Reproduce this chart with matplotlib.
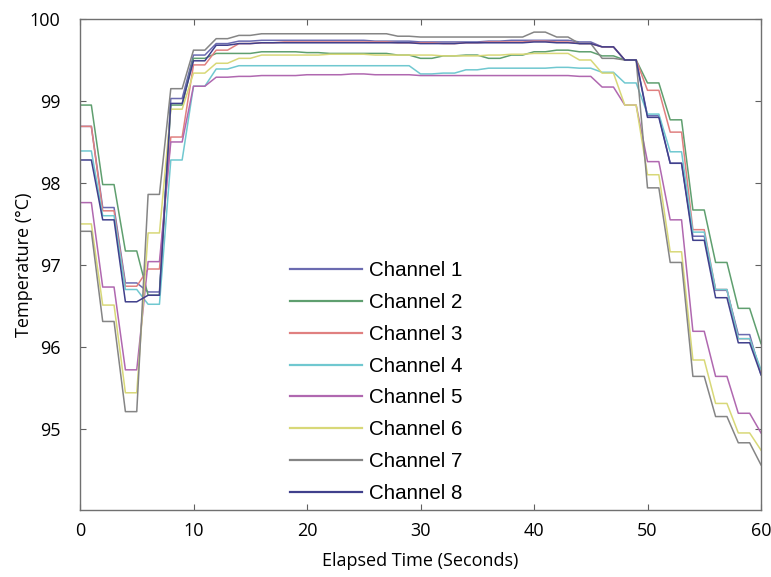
import numpy as np
import matplotlib
matplotlib.use("Agg")
import matplotlib.pyplot as plt

# sample times every 2 s; each sample held for 1 s then ramps to the next
sample_step = 2
x_ticks = [0, 10, 20, 30, 40, 50, 60]
y_ticks = [95, 96, 97, 98, 99, 100]
labels = ["Channel 1", "Channel 2", "Channel 3", "Channel 4",
          "Channel 5", "Channel 6", "Channel 7", "Channel 8"]
colors = ["#6b6bb0", "#5f9f6f", "#e08080", "#70c8d0",
          "#b068b0", "#d8d878", "#858585", "#40408c"]

# values at t = 0, 2, 4, ..., 60
ch1 = [98.69, 97.70, 96.78, 96.67, 99.03, 99.56, 99.70, 99.73, 99.74, 99.74, 99.74, 99.74,
       99.74, 99.73, 99.73, 99.72, 99.72, 99.72, 99.73, 99.74, 99.74, 99.74, 99.72, 99.66,
       99.50, 98.82, 98.24, 97.35, 96.69, 96.15, 95.66]
ch2 = [98.95, 97.98, 97.17, 96.63, 98.95, 99.52, 99.58, 99.58, 99.60, 99.60, 99.59, 99.58,
       99.58, 99.58, 99.56, 99.52, 99.55, 99.56, 99.52, 99.56, 99.60, 99.62, 99.60, 99.55,
       99.50, 99.22, 98.77, 97.67, 97.03, 96.47, 96.04]
ch3 = [98.69, 97.66, 96.74, 96.95, 98.56, 99.44, 99.62, 99.70, 99.71, 99.72, 99.72, 99.72,
       99.72, 99.72, 99.71, 99.71, 99.70, 99.71, 99.72, 99.72, 99.73, 99.72, 99.70, 99.66,
       99.50, 99.13, 98.62, 97.43, 96.70, 96.10, 95.70]
ch4 = [98.39, 97.60, 96.70, 96.52, 98.28, 99.18, 99.39, 99.43, 99.43, 99.43, 99.43, 99.43,
       99.43, 99.43, 99.43, 99.33, 99.34, 99.38, 99.40, 99.40, 99.40, 99.41, 99.40, 99.35,
       99.22, 98.84, 98.38, 97.40, 96.70, 96.10, 95.72]
ch5 = [97.76, 96.73, 95.72, 97.04, 98.50, 99.18, 99.29, 99.30, 99.31, 99.31, 99.32, 99.32,
       99.33, 99.32, 99.32, 99.31, 99.31, 99.31, 99.31, 99.31, 99.31, 99.31, 99.30, 99.17,
       98.95, 98.26, 97.55, 96.19, 95.64, 95.19, 94.95]
ch6 = [97.50, 96.51, 95.44, 97.39, 98.90, 99.34, 99.46, 99.52, 99.56, 99.56, 99.56, 99.57,
       99.57, 99.56, 99.56, 99.56, 99.55, 99.55, 99.56, 99.57, 99.58, 99.58, 99.50, 99.34,
       98.95, 98.10, 97.16, 95.84, 95.31, 94.95, 94.74]
ch7 = [97.41, 96.31, 95.21, 97.86, 99.15, 99.62, 99.76, 99.80, 99.82, 99.82, 99.82, 99.82,
       99.82, 99.82, 99.79, 99.78, 99.78, 99.78, 99.78, 99.78, 99.84, 99.78, 99.70, 99.52,
       99.50, 97.94, 97.03, 95.64, 95.15, 94.83, 94.56]
ch8 = [98.28, 97.55, 96.55, 96.63, 98.97, 99.49, 99.68, 99.70, 99.71, 99.71, 99.71, 99.71,
       99.71, 99.71, 99.71, 99.70, 99.70, 99.71, 99.71, 99.71, 99.72, 99.71, 99.70, 99.66,
       99.50, 98.80, 98.24, 97.30, 96.60, 96.05, 95.66]
channels = [ch1, ch2, ch3, ch4, ch5, ch6, ch7, ch8]

fig = plt.figure(figsize=(7.71, 5.77), dpi=100)
ax = fig.add_axes([80/771, 1-510/577, (761-80)/771, (510-19)/577])

for vals, lab, col in zip(channels, labels, colors):
    v = np.asarray(vals)
    y = np.repeat(v, sample_step)[: (len(v) - 1) * sample_step + 1]
    t = np.arange(len(y))
    ax.plot(t, y, color=col, lw=1.1, label=lab)

ax.set_xlim(0, 60)
ax.set_ylim(94.01, 100)
ax.set_xticks(x_ticks)
ax.set_yticks(y_ticks)
tick_font = dict(family=["Open Sans", "DejaVu Sans"], size=13)
ax.set_xticklabels([str(v) for v in x_ticks], **tick_font)
ax.set_yticklabels([str(v) for v in y_ticks], **tick_font)
ax.tick_params(direction="in", length=4, width=0.8, color="#606060",
               top=True, right=True)
ax.tick_params(axis="x", pad=9)
ax.tick_params(axis="y", pad=14)
for s in ax.spines.values():
    s.set_color("#707070")
    s.set_linewidth(1.0)

lab_font = dict(family=["Open Sans", "DejaVu Sans"], size=13)
ax.set_xlabel("Elapsed Time (Seconds)", labelpad=8.5, **lab_font)
ax.set_ylabel("Temperature (°C)", labelpad=-2, **lab_font)

leg = ax.legend(loc="upper left", bbox_to_anchor=(271/771, 1-243/577),
                bbox_transform=fig.transFigure, frameon=False,
                prop=dict(family="Liberation Sans", size=14.8),
                handlelength=3.55, handletextpad=0.3, labelspacing=0.62)
for h in leg.get_lines():
    h.set_linewidth(1.6)

fig.savefig("out.png", dpi=100)
